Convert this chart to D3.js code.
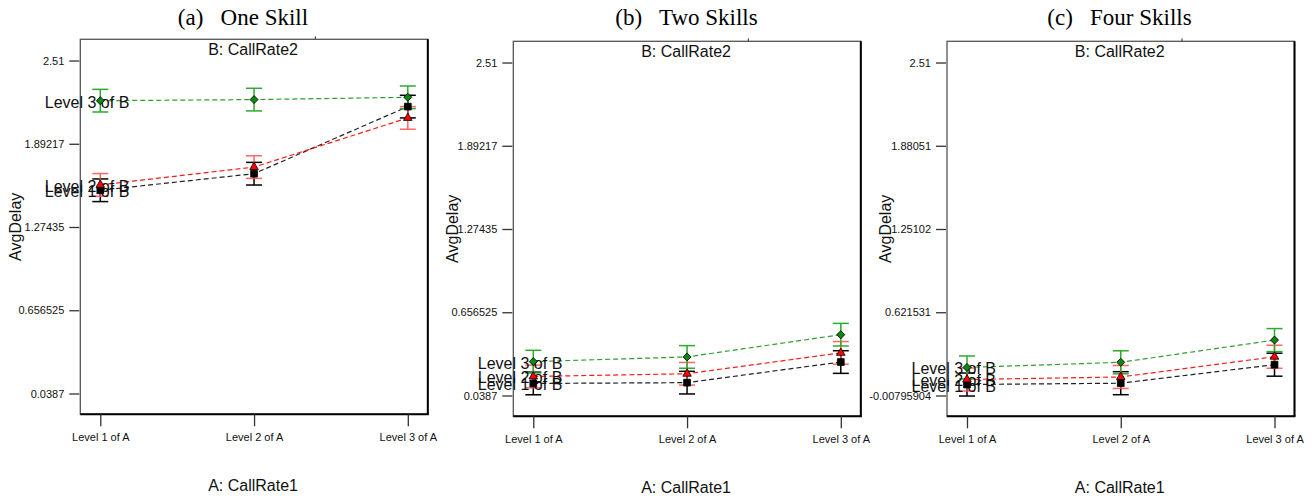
<!DOCTYPE html>
<html>
<head>
<meta charset="utf-8">
<script src="https://cdn.jsdelivr.net/npm/d3@7"></script>
<style>
  html, body { margin: 0; padding: 0; background: #fff; }
  svg { display: block; }
</style>
</head>
<body>
<div id="chart"></div>
<script>
// ---------------- data ----------------
const categoriesA = ["Level 1 of A", "Level 2 of A", "Level 3 of A"];
const seriesB = ["Level 1 of B", "Level 2 of B", "Level 3 of B"];
const panelTitles = ["(a)   One Skill", "(b)   Two Skills", "(c)   Four Skills"];

const oneSkillB1 = [1.547, 1.670, 2.168];
const oneSkillB2 = [1.587, 1.719, 2.084];
const oneSkillB3 = [2.212, 2.220, 2.237];

const twoSkillsB1 = [0.128, 0.134, 0.287];
const twoSkillsB2 = [0.180, 0.200, 0.355];
const twoSkillsB3 = [0.290, 0.325, 0.490];

const fourSkillsB1 = [0.075, 0.085, 0.225];
const fourSkillsB2 = [0.113, 0.132, 0.285];
const fourSkillsB3 = [0.204, 0.243, 0.411];

const errorHalfWidth = [0.084, 0.084, 0.087];

const ticksOne = [0.0387, 0.656525, 1.27435, 1.89217, 2.51];
const tickLabelsOne = ["0.0387", "0.656525", "1.27435", "1.89217", "2.51"];
const ticksTwo = [0.0387, 0.656525, 1.27435, 1.89217, 2.51];
const tickLabelsTwo = ["0.0387", "0.656525", "1.27435", "1.89217", "2.51"];
const ticksFour = [-0.00795904, 0.621531, 1.25102, 1.88051, 2.51];
const tickLabelsFour = ["-0.00795904", "0.621531", "1.25102", "1.88051", "2.51"];

const xAxisTitle = "A: CallRate1";
const yAxisTitle = "AvgDelay";
const panelSubtitle = "B: CallRate2";

// ---------------- layout ----------------
const W = 1314, H = 498;
const panels = [
  { title: panelTitles[0], series: [oneSkillB1, oneSkillB2, oneSkillB3], ticks: ticksOne, labels: tickLabelsOne,
    err: errorHalfWidth[0], left: 80.3, top: 39.3, titleX: 243, yTitleOff: 59 },
  { title: panelTitles[1], series: [twoSkillsB1, twoSkillsB2, twoSkillsB3], ticks: ticksTwo, labels: tickLabelsTwo,
    err: errorHalfWidth[1], left: 513.3, top: 41.3, titleX: 686.5, yTitleOff: 55 },
  { title: panelTitles[2], series: [fourSkillsB1, fourSkillsB2, fourSkillsB3], ticks: ticksFour, labels: tickLabelsFour,
    err: errorHalfWidth[2], left: 947, top: 41.3, titleX: 1119.5, yTitleOff: 56 }
];
const PW = 347.5, PH = 375;

const styles = [
  { line: "#222222", bar: "#000000", fill: "#000000", symbol: "square" },
  { line: "#ff1a1a", bar: "#ff4d4d", fill: "#ff0000", symbol: "triangle" },
  { line: "#2e9e2e", bar: "#2eaa2e", fill: "#0a8a0a", symbol: "diamond" }
];

const svg = d3.select("#chart").append("svg")
  .attr("width", W).attr("height", H)
  .attr("font-family", "'Liberation Sans', Arial, sans-serif");
svg.append("rect").attr("width", W).attr("height", H).attr("fill", "#fff");

panels.forEach(p => {
  const g = svg.append("g").attr("transform", `translate(${p.left},${p.top})`);
  const step = p.ticks[1] - p.ticks[0];
  const y = d3.scaleLinear()
    .domain([p.ticks[0] - 0.25 * step, p.ticks[p.ticks.length - 1] + 0.255 * step])
    .range([PH, 0]);
  const x = d3.scalePoint().domain(categoriesA).range([0, PW]).padding(0.13);

  // title
  svg.append("text")
    .attr("x", p.titleX).attr("y", 25)
    .attr("text-anchor", "middle")
    .attr("font-family", "'Liberation Serif', 'Times New Roman', serif")
    .attr("font-size", 23)
    .style("white-space", "pre")
    .text(p.title);

  // frame
  g.append("rect").attr("width", PW).attr("height", PH)
    .attr("fill", "none").attr("stroke", "#555").attr("stroke-width", 1.3);
  g.append("line").attr("x1", 0).attr("x2", PW + 1).attr("y1", PH).attr("y2", PH)
    .attr("stroke", "#000").attr("stroke-width", 2);
  g.append("line").attr("x1", PW).attr("x2", PW).attr("y1", 0).attr("y2", PH)
    .attr("stroke", "#000").attr("stroke-width", 2);
  // small tick at top
  g.append("line").attr("x1", 235).attr("x2", 235).attr("y1", -3).attr("y2", 0)
    .attr("stroke", "#333").attr("stroke-width", 1);

  // y axis
  const yAxis = d3.axisLeft(y).tickValues(p.ticks)
    .tickFormat((d, i) => p.labels[i]).tickSize(10).tickPadding(5);
  const ya = g.append("g").attr("transform", "translate(-1,0)").call(yAxis);
  ya.select(".domain").remove();
  ya.selectAll("line").attr("stroke", "#333").attr("stroke-width", 1.3);
  ya.selectAll("text").attr("font-size", 11).attr("fill", "#111")
    .attr("font-family", "'Liberation Sans', Arial, sans-serif");

  // x axis
  const xAxis = d3.axisBottom(x).tickSize(12).tickPadding(6.5);
  const xa = g.append("g").attr("transform", `translate(0,${PH})`).call(xAxis);
  xa.select(".domain").remove();
  xa.selectAll("line").attr("stroke", "#333").attr("stroke-width", 1.3);
  xa.selectAll("text").attr("font-size", 11).attr("fill", "#111")
    .attr("font-family", "'Liberation Sans', Arial, sans-serif");

  // subtitle
  g.append("text").attr("x", PW / 2 - 1).attr("y", 16)
    .attr("text-anchor", "middle").attr("font-size", 16).attr("fill", "#111")
    .text(panelSubtitle);

  // axis titles
  g.append("text").attr("x", PW / 2 - 1).attr("y", PH + 77)
    .attr("text-anchor", "middle").attr("font-size", 16).attr("fill", "#111")
    .text(xAxisTitle);
  g.append("text")
    .attr("transform", `translate(${-p.yTitleOff},${PH / 2}) rotate(-90)`)
    .attr("text-anchor", "middle").attr("font-size", 16).attr("fill", "#111")
    .text(yAxisTitle);

  // dashed lines
  const line = d3.line().x((d, i) => x(categoriesA[i])).y(d => y(d));
  p.series.forEach((vals, si) => {
    g.append("path").datum(vals).attr("d", line)
      .attr("fill", "none").attr("stroke", styles[si].line)
      .attr("stroke-width", 1.2).attr("stroke-dasharray", "5,3");
  });

  // error bars
  p.series.forEach((vals, si) => {
    const eb = g.append("g").attr("stroke", styles[si].bar).attr("stroke-width", 1.5)
      .attr("opacity", si === 1 ? 0.85 : 1);
    vals.forEach((v, i) => {
      const cx = x(categoriesA[i]);
      eb.append("line").attr("x1", cx).attr("x2", cx).attr("y1", y(v - p.err)).attr("y2", y(v + p.err));
      eb.append("line").attr("x1", cx - 8).attr("x2", cx + 8).attr("y1", y(v - p.err)).attr("y2", y(v - p.err));
      eb.append("line").attr("x1", cx - 8).attr("x2", cx + 8).attr("y1", y(v + p.err)).attr("y2", y(v + p.err));
    });
  });

  // series labels at the first level
  p.series.forEach((vals, si) => {
    g.append("text")
      .attr("x", x(categoriesA[0]) - 55.5).attr("y", y(vals[0]) + 7)
      .attr("font-size", 16).attr("fill", "#111")
      .text(seriesB[si]);
  });

  // markers
  p.series.forEach((vals, si) => {
    const st = styles[si];
    vals.forEach((v, i) => {
      const cx = x(categoriesA[i]), cy = y(v);
      let sym, rot = 0;
      if (st.symbol === "square") sym = d3.symbol().type(d3.symbolSquare).size(46);
      else if (st.symbol === "triangle") sym = d3.symbol().type(d3.symbolTriangle).size(32);
      else { sym = d3.symbol().type(d3.symbolSquare).size(32); rot = 45; }
      g.append("path").attr("d", sym())
        .attr("transform", `translate(${cx},${cy}) rotate(${rot})`)
        .attr("fill", st.fill).attr("stroke", "#000").attr("stroke-width", 0.8);
    });
  });
});
</script>
</body>
</html>
